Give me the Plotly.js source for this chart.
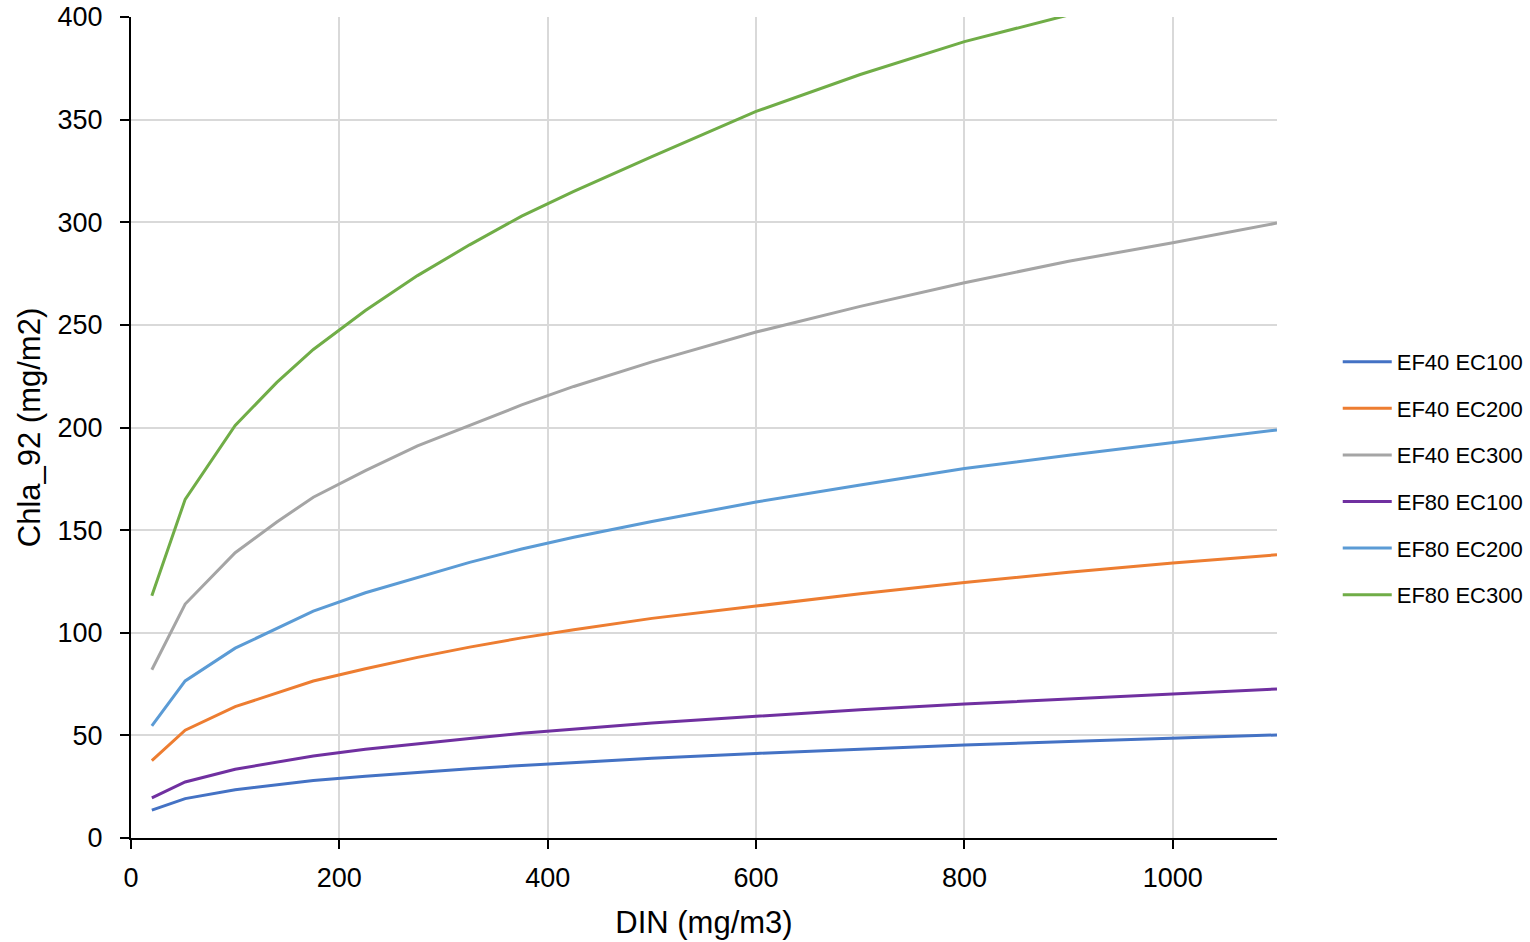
<!DOCTYPE html>
<html>
<head>
<meta charset="utf-8">
<script src="https://cdn.plot.ly/plotly-3.0.1.min.js"></script>
<style>html,body{margin:0;padding:0;background:#fff;}#chart{width:1530px;height:942px;}</style>
</head>
<body>
<div id="chart"></div>
<script>
const din = [20, 52, 100, 140, 175, 225, 275, 325, 375, 425, 500, 600, 700, 800, 900, 1000, 1100];
const seriesNames = ["EF40 EC100", "EF40 EC200", "EF40 EC300", "EF80 EC100", "EF80 EC200", "EF80 EC300"];
const ef40ec100 = [13.6, 19.2, 23.5, 26, 28, 30.1, 32, 33.8, 35.3, 36.8, 38.8, 41.2, 43.4, 45.3, 47, 48.7, 50.2];
const ef40ec200 = [37.7, 52.5, 64, 70.8, 76.5, 82.5, 88, 93, 97.5, 101.5, 107, 113, 119, 124.5, 129.5, 134, 138];
const ef40ec300 = [82, 114, 139, 154, 166, 179, 191, 201, 211, 220, 232, 246.5, 259, 270.5, 281, 290, 299.6];
const ef80ec100 = [19.6, 27.3, 33.5, 37, 40, 43.2, 46, 48.5, 51, 53, 56, 59.3, 62.5, 65.3, 67.8, 70.2, 72.6];
const ef80ec200 = [54.6, 76.5, 92.5, 102, 110.5, 119.5, 127, 134.3, 140.8, 146.5, 154.2, 163.7, 172, 180, 186.5, 192.5, 198.8];
const ef80ec300 = [118, 165, 201, 222, 238, 257, 274, 289, 303, 315, 332, 354, 372, 388, 401, 414, 427];
const colors = ["#4472C4", "#ED7D31", "#A5A5A5", "#7030A0", "#5B9BD5", "#70AD47"];
const values = [ef40ec100, ef40ec200, ef40ec300, ef80ec100, ef80ec200, ef80ec300];

const FONT = "Liberation Sans, Arial, sans-serif";
const traces = seriesNames.map((n, i) => ({
  type: "scatter", mode: "lines", name: n, x: din, y: values[i],
  legendgroup: "g" + i,
  line: {color: colors[i], width: 3}
}));

const layout = {
  width: 1530, height: 942,
  margin: {l: 131, r: 253, t: 17, b: 104, pad: 0, autoexpand: false},
  paper_bgcolor: "#fff", plot_bgcolor: "#fff",
  font: {family: FONT, color: "#000"},
  showlegend: true,
  legend: {x: 1.053, xanchor: "left", y: 0.438, yanchor: "middle",
           font: {family: FONT, size: 22, color: "#000"},
           tracegroupgap: 15, itemwidth: 49},
  xaxis: {range: [0, 1100], tickvals: [0, 200, 400, 600, 800, 1000],
          showgrid: true, gridcolor: "#d9d9d9", gridwidth: 2,
          showline: true, linecolor: "#000", linewidth: 2,
          ticks: "outside", ticklen: 9, tickwidth: 2, tickcolor: "#000",
          ticklabelstandoff: 6,
          tickfont: {family: FONT, size: 27}, zeroline: false,
          title: {text: "DIN (mg/m3)", font: {family: FONT, size: 31}, standoff: 19}},
  yaxis: {range: [0, 400], dtick: 50, tick0: 0,
          showgrid: true, gridcolor: "#d9d9d9", gridwidth: 2,
          showline: true, linecolor: "#000", linewidth: 2,
          ticks: "outside", ticklen: 9, tickwidth: 2, tickcolor: "#000",
          ticklabelstandoff: 12,
          tickfont: {family: FONT, size: 27}, zeroline: false,
          title: {text: "Chla_92 (mg/m2)", font: {family: FONT, size: 31}, standoff: 8}}
};
Plotly.newPlot("chart", traces, layout, {displayModeBar: false, staticPlot: true});
</script>
</body>
</html>
